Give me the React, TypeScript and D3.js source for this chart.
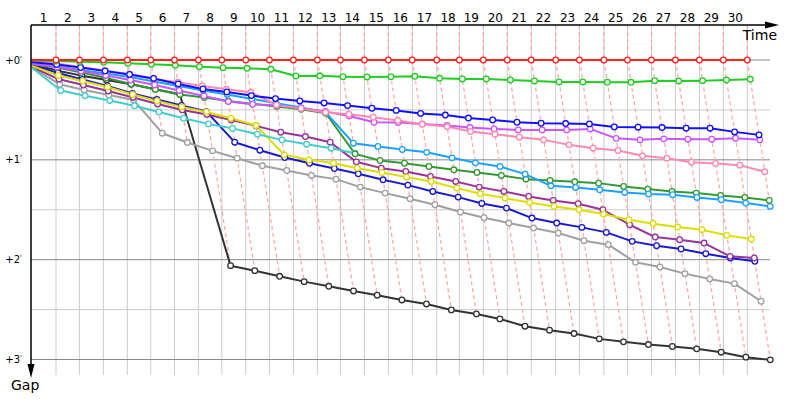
import * as d3 from "d3";

// leader's lap times, seconds
const lapTimes = [96, 90, 92, 92, 90, 91, 92, 90, 92, 91, 92, 92, 88.5, 92, 92, 92, 94, 87, 92, 92, 92, 94, 91, 94, 91, 92, 92, 92, 92, 92];

// gap to leader (seconds), index = lap (0 = start)
const redGaps = [0, 0, 0, 0, 0, 0, 0, 0, 0, 0, 0, 0, 0, 0, 0, 0, 0, 0, 0, 0, 0, 0, 0, 0, 0, 0, 0, 0, 0, 0, 0];
const greenGaps = [0.3, 0.6, 1.0, 1.4, 2.0, 2.6, 3.2, 4.0, 4.6, 5.0, 5.6, 9.6, 9.5, 10.0, 10.2, 10.0, 9.8, 11.0, 11.4, 11.4, 12.0, 12.6, 13.2, 13.2, 13.4, 13.4, 12.4, 12.6, 12.4, 12.0, 11.6];
const blueGaps = [1.2, 2.7, 4.5, 6.6, 8.7, 11.1, 14.4, 17.4, 19.2, 21.4, 23.2, 24.6, 25.8, 27.4, 29.0, 30.3, 32.1, 33.1, 34.9, 36.0, 37.4, 38.0, 38.2, 38.4, 40.2, 40.4, 40.6, 41.0, 41.0, 43.2, 45.0];
const pinkGaps = [0.9, 2.1, 4.2, 6.4, 8.6, 11.4, 13.4, 15.6, 17.6, 19.4, 27.0, 29.1, 31.5, 32.6, 34.4, 36.4, 38.6, 40.0, 43.0, 44.6, 46.4, 48.0, 51.0, 53.0, 54.4, 57.6, 59.0, 61.4, 62.2, 63.2, 67.2];
const violetGaps = [2.2, 4.2, 6.6, 9.3, 12.0, 15.0, 18.3, 21.6, 25.0, 26.6, 27.4, 29.0, 30.9, 33.6, 37.4, 37.6, 38.4, 39.4, 40.6, 41.4, 42.0, 42.0, 42.0, 41.4, 47.1, 48.0, 47.4, 47.6, 47.6, 47.0, 48.0];
const lightBlueGaps = [1.8, 3.9, 6.0, 8.1, 10.2, 12.9, 15.6, 18.3, 20.7, 23.4, 26.0, 28.6, 31.4, 50.0, 52.0, 53.8, 55.5, 58.8, 61.8, 64.0, 68.6, 75.6, 76.6, 78.0, 79.6, 80.6, 81.0, 82.6, 84.0, 86.0, 88.0];
const darkGreenGaps = [2.6, 4.5, 7.5, 10.8, 14.4, 17.7, 20.7, 22.6, 24.6, 26.4, 28.0, 29.6, 32.0, 56.4, 60.4, 62.0, 64.0, 66.0, 67.6, 69.4, 71.6, 72.4, 73.2, 74.0, 76.0, 77.6, 79.0, 80.0, 81.4, 82.6, 84.4];
const cyanGaps = [4.8, 18.3, 21.5, 24.3, 27.5, 31.2, 35.0, 38.4, 41.1, 44.6, 48.0, 50.6, 53.0, 56.0];
const yellowGaps = [3.6, 9.3, 12.6, 16.2, 20.7, 24.6, 28.2, 31.2, 35.0, 39.4, 57.0, 60.0, 62.0, 65.0, 67.6, 70.4, 73.0, 77.0, 80.4, 83.0, 85.6, 88.0, 90.0, 92.6, 96.0, 98.4, 100.4, 102.0, 105.4, 107.6];
const purpleGaps = [4.2, 11.6, 15.0, 18.6, 22.5, 26.4, 30.0, 32.7, 36.0, 39.6, 43.4, 46.0, 49.4, 61.2, 65.0, 67.0, 70.0, 73.0, 76.4, 79.0, 82.0, 84.4, 86.4, 90.0, 99.0, 106.4, 108.0, 110.0, 118.0, 119.0];
const navyGaps = [3.0, 7.8, 11.7, 15.6, 20.1, 23.7, 27.3, 31.0, 49.4, 54.2, 58.6, 62.1, 65.2, 68.4, 72.0, 75.2, 79.0, 82.4, 86.2, 89.0, 95.0, 98.0, 100.6, 103.6, 109.0, 111.6, 113.6, 116.4, 119.0, 121.0];
const grayGaps = [4.5, 14.6, 18.0, 21.0, 24.0, 44.0, 49.6, 54.6, 59.0, 63.6, 66.4, 69.4, 71.6, 76.4, 80.0, 83.4, 87.0, 91.4, 94.8, 98.0, 101.0, 104.0, 108.6, 111.0, 121.6, 124.4, 128.4, 131.6, 134.4, 145.0];
const blackGaps = [2.4, 6.4, 9.4, 12.0, 14.6, 17.6, 20.6, 123.6, 126.6, 130.0, 133.2, 136.0, 138.8, 141.4, 144.2, 146.6, 150.2, 152.6, 155.6, 160.0, 162.4, 164.4, 167.6, 169.4, 171.0, 172.2, 173.6, 175.6, 178.6, 180.2];

const majorGaps = [0, 60, 120, 180];
const minorGaps = [30, 90, 150];
const gapLabels = ["+0", "+1", "+2", "+3"];

// drawn bottom to top
const series = [
  { color: "#333333", gaps: blackGaps },
  { color: "#a0a0a0", gaps: grayGaps },
  { color: "#1a1acc", gaps: navyGaps },
  { color: "#993399", gaps: purpleGaps },
  { color: "#dddd00", gaps: yellowGaps },
  { color: "#44cccc", gaps: cyanGaps },
  { color: "#339933", gaps: darkGreenGaps },
  { color: "#1ea0ff", gaps: lightBlueGaps },
  { color: "#cc55ff", gaps: violetGaps },
  { color: "#ff88b0", gaps: pinkGaps },
  { color: "#1010ff", gaps: blueGaps },
  { color: "#22cc22", gaps: greenGaps },
  { color: "#ff2020", gaps: redGaps },
];

const leaderCum = [0, ...d3.cumsum(lapTimes)];

const left = 31;
const top = 25;

const x = d3.scaleLinear().domain([0, d3.sum(lapTimes)]).range([left, 747.3]);
const y = d3.scaleLinear().domain([0, 180]).range([60, 359.5]);

type Pt = { lap: number; t: number; g: number };

const pointsOf = (gaps: number[]): Pt[] =>
  gaps.map((g, lap) => ({ lap, t: leaderCum[lap] + g, g }));

const line = d3.line<Pt>().x((d) => x(d.t)).y((d) => y(d.g));

function App() {
  const laps = lapTimes.map((_, i) => i + 1);
  const all = series.map((s) => ({ ...s, pts: pointsOf(s.gaps) }));

  // dashed "same lap" links, from the top axis through every car on that lap
  const lapLinks = laps.map((lap) => {
    const pts = all
      .filter((s) => s.pts.length > lap)
      .map((s) => s.pts[lap])
      .sort((a, b) => a.g - b.g);
    return `M${x(leaderCum[lap])},${top}` + pts.map((p) => `L${x(p.t)},${y(p.g)}`).join("");
  });

  return (
    <svg
      width={800}
      height={400}
      style={{ position: "absolute", left: 0, top: 0, background: "#fff" }}
      fontFamily="DejaVu Sans, sans-serif"
    >
      {/* grid */}
      {laps.map((lap) => (
        <line key={`v${lap}`} x1={x(leaderCum[lap])} x2={x(leaderCum[lap])} y1={top} y2={375} stroke="#cccccc" strokeWidth={1} />
      ))}
      {minorGaps.map((g) => (
        <line key={`m${g}`} x1={left} x2={770} y1={y(g)} y2={y(g)} stroke="#cccccc" strokeWidth={1} />
      ))}
      {majorGaps.map((g) => (
        <line key={`M${g}`} x1={left} x2={770} y1={y(g)} y2={y(g)} stroke="#888888" strokeWidth={1} />
      ))}

      {lapLinks.map((d, i) => (
        <path key={`l${i}`} d={d} fill="none" stroke="#ffaaaa" strokeWidth={1.3} strokeDasharray="4,3" />
      ))}

      {all.map((s, i) => (
        <path key={`s${i}`} d={line(s.pts) ?? ""} fill="none" stroke={s.color} strokeWidth={2} strokeLinejoin="round" />
      ))}
      {all.map((s, i) => (
        <g key={`p${i}`}>
          {s.pts.slice(1).map((p) => (
            <circle key={p.lap} cx={x(p.t)} cy={y(p.g)} r={2.8} fill="#fff" stroke={s.color} strokeWidth={1.3} />
          ))}
        </g>
      ))}

      {/* axes */}
      <line x1={left} x2={767} y1={top} y2={top} stroke="#000" strokeWidth={1.5} />
      <polygon points={`765,${top - 3.5} 779,${top} 765,${top + 3.5}`} fill="#000" />
      <line x1={left} x2={left} y1={top} y2={366} stroke="#000" strokeWidth={1.5} />
      <polygon points={`${left - 3.5},364 ${left},378 ${left + 3.5},364`} fill="#000" />

      {laps.map((lap) => (
        <text
          key={`t${lap}`}
          x={(x(leaderCum[lap - 1]) + x(leaderCum[lap])) / 2}
          y={22}
          fontSize={12}
          textAnchor="middle"
          fill="#000"
        >
          {lap}
        </text>
      ))}
      {majorGaps.map((g, i) => (
        <text key={`g${g}`} x={22} y={y(g) + 3.5} fontSize={10} textAnchor="end" fill="#000">
          {gapLabels[i]}
          <tspan fontSize={7} dy={-3}>'</tspan>
        </text>
      ))}

      <text x={777} y={40} fontSize={14} textAnchor="end" fill="#000">Time</text>
      <text x={11} y={390} fontSize={14} fill="#000">Gap</text>
    </svg>
  );
}

export default App;
